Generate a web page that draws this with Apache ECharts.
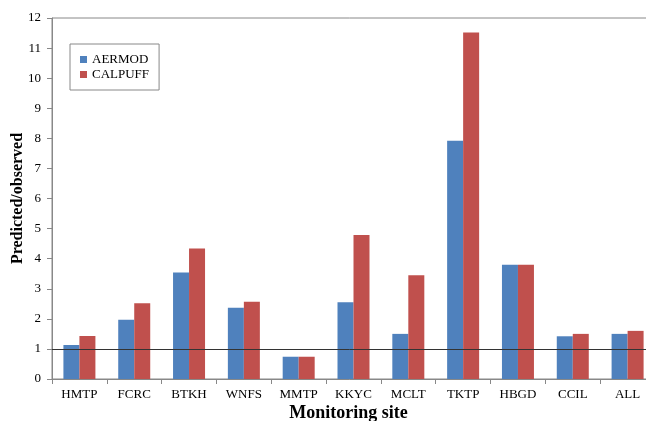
<!DOCTYPE html>
<html>
<head>
<meta charset="utf-8">
<script src="https://cdn.jsdelivr.net/npm/echarts@6/dist/echarts.min.js"></script>
<style>html,body{margin:0;padding:0;background:#fff}#c{width:646px;height:421px}</style>
</head>
<body>
<div id="c"></div>
<script>
const categories = ['HMTP','FCRC','BTKH','WNFS','MMTP','KKYC','MCLT','TKTP','HBGD','CCIL','ALL'];
const aermod = [1.13, 1.97, 3.54, 2.37, 0.74, 2.55, 1.50, 7.92, 3.80, 1.42, 1.50];
const calpuff = [1.43, 2.52, 4.34, 2.57, 0.74, 4.79, 3.45, 11.52, 3.80, 1.50, 1.60];
const referenceValue = 1;
const font = 'Liberation Serif';

const chart = echarts.init(document.getElementById('c'), null, {renderer: 'canvas'});
chart.setOption({
  animation: false,
  backgroundColor: '#fff',
  textStyle: {fontFamily: font},
  grid: {left: 52, top: 18, width: 603, height: 361, show: true, borderColor: '#888', borderWidth: 1,
         containLabel: false, outerBoundsMode: 'none'},
  legend: {
    left: 70, top: 44, orient: 'vertical', padding: [9, 10, 9, 10],
    borderColor: '#888', borderWidth: 1, itemGap: 2,
    itemWidth: 7, itemHeight: 7, icon: 'rect',
    textStyle: {fontFamily: font, fontSize: 13, color: '#000'},
    data: ['AERMOD', 'CALPUFF']
  },
  xAxis: {
    type: 'category', data: categories,
    name: 'Monitoring site', nameLocation: 'middle', nameGap: 25, nameMoveOverlap: false,
    nameTextStyle: {fontFamily: font, fontSize: 18, fontWeight: 'bold', color: '#000', padding: [0, 0, 0, -10]},
    axisLine: {lineStyle: {color: '#888'}},
    axisTick: {show: true, alignWithLabel: false, length: 5, lineStyle: {color: '#888'}},
    axisLabel: {fontFamily: font, fontSize: 13, color: '#000', margin: 9}
  },
  yAxis: {
    type: 'value', min: 0, max: 12, interval: 1,
    name: 'Predicted/observed', nameLocation: 'middle', nameGap: 26, nameMoveOverlap: false,
    nameTextStyle: {fontFamily: font, fontSize: 16, fontWeight: 'bold', color: '#000'},
    axisLine: {show: true, lineStyle: {color: '#888'}},
    axisTick: {show: true, length: 5, lineStyle: {color: '#888'}},
    splitLine: {show: false},
    axisLabel: {fontFamily: font, fontSize: 13, color: '#000', margin: 11}
  },
  series: [
    {name: 'AERMOD', type: 'bar', data: aermod, barWidth: 16, barGap: '0%',
     itemStyle: {color: '#4F81BD'},
     markLine: {silent: true, symbol: 'none', label: {show: false},
       lineStyle: {color: '#333', width: 1, type: 'solid'},
       data: [{yAxis: referenceValue}]}},
    {name: 'CALPUFF', type: 'bar', data: calpuff, barWidth: 16, barGap: '0%',
     itemStyle: {color: '#C0504D'}}
  ]
});
</script>
</body>
</html>
